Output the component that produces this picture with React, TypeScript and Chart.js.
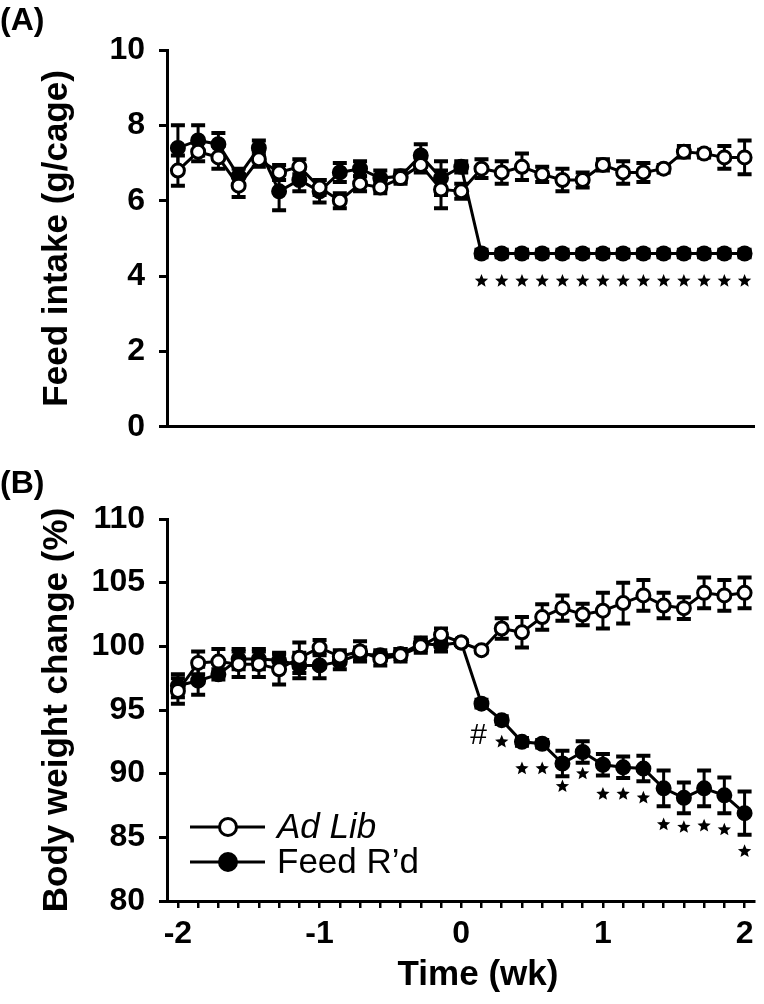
import React, { useEffect, useRef } from 'react';
import { Chart, registerables } from 'chart.js';

Chart.register(...registerables);

const FONT = '"Liberation Sans", Arial, Helvetica, sans-serif';

// Days relative to start of feed restriction (x axis is in weeks)
const days = [-14, -13, -12, -11, -10, -9, -8, -7, -6, -5, -4, -3, -2, -1, 0, 1, 2, 3, 4, 5, 6, 7, 8, 9, 10, 11, 12, 13, 14];
const weeks = days.map((d) => d / 7);

const xLabelWeeks = [-2, -1, 0, 1, 2];
const xTickLabels = ['-2', '-1', '0', '1', '2'];
const feedTicks = [0, 2, 4, 6, 8, 10];
const weightTicks = [80, 85, 90, 95, 100, 105, 110];

// (A) Feed intake (g/cage)
const adLibFeed = [6.8, 7.3, 7.15, 6.4, 7.1, 6.75, 6.9, 6.35, 6.0, 6.45, 6.35, 6.6, 6.95, 6.3, 6.25, 6.85, 6.75, 6.9, 6.7, 6.55, 6.55, 6.95, 6.75, 6.75, 6.85, 7.3, 7.25, 7.15, 7.15];
const adLibFeedErr = [0.4, 0.25, 0.3, 0.3, 0.2, 0.2, 0.2, 0.2, 0.2, 0.2, 0.15, 0.15, 0.2, 0.5, 0.2, 0.25, 0.3, 0.35, 0.2, 0.3, 0.2, 0.15, 0.3, 0.25, 0.1, 0.15, 0.1, 0.3, 0.45];
const restrictedFeed = [7.4, 7.6, 7.5, 6.65, 7.4, 6.25, 6.55, 6.25, 6.75, 6.85, 6.6, 6.65, 7.2, 6.6, 6.9, 4.6, 4.6, 4.6, 4.6, 4.6, 4.6, 4.6, 4.6, 4.6, 4.6, 4.6, 4.6, 4.6, 4.6];
const restrictedFeedErr = [0.6, 0.4, 0.3, 0.2, 0.2, 0.5, 0.3, 0.3, 0.25, 0.2, 0.2, 0.15, 0.3, 0.45, 0.15, 0.1, 0.1, 0.1, 0.1, 0.1, 0.1, 0.1, 0.1, 0.1, 0.1, 0.1, 0.1, 0.1, 0.1];
const feedStarDays = [1, 2, 3, 4, 5, 6, 7, 8, 9, 10, 11, 12, 13, 14];
const feedStarLevel = [3.87, 3.87, 3.87, 3.87, 3.87, 3.87, 3.87, 3.87, 3.87, 3.87, 3.87, 3.87, 3.87, 3.87];

// (B) Body weight change (%)
const adLibWeight = [96.5, 98.7, 98.8, 98.6, 98.6, 98.2, 99.1, 99.9, 99.2, 99.6, 99.0, 99.3, 100.0, 100.9, 100.3, 99.7, 101.4, 101.1, 102.3, 103.0, 102.5, 102.8, 103.4, 104.0, 103.2, 103.0, 104.2, 104.0, 104.2];
const adLibWeightErr = [1.0, 0.9, 1.0, 1.0, 1.0, 1.2, 1.2, 0.6, 0.5, 0.8, 0.5, 0.5, 0.5, 0.5, 0.2, 0.2, 0.8, 1.2, 1.0, 1.0, 0.85, 1.4, 1.6, 1.2, 1.0, 0.85, 1.2, 1.2, 1.2];
const restrictedWeight = [96.9, 97.3, 97.8, 99.0, 99.0, 98.9, 98.5, 98.5, 98.8, 99.4, 99.3, 99.4, 100.2, 100.1, 100.3, 95.5, 94.2, 92.5, 92.35, 90.8, 91.7, 90.7, 90.5, 90.4, 88.85, 88.1, 88.85, 88.3, 86.9];
const restrictedWeightErr = [0.9, 1.1, 0.4, 0.8, 0.8, 0.6, 1.0, 1.0, 0.6, 0.5, 0.4, 0.4, 0.5, 0.5, 0.2, 0.3, 0.3, 0.3, 0.3, 1.0, 0.85, 0.85, 0.85, 1.0, 1.4, 1.2, 1.4, 1.4, 1.7];
const weightStarDays = [2, 3, 4, 5, 6, 7, 8, 9, 10, 11, 12, 13, 14];
const weightStarLevel = [92.5, 90.4, 90.4, 89.0, 90.0, 88.4, 88.4, 88.1, 86.0, 85.8, 85.9, 85.6, 83.9];
const weightHashDay = 1;
const weightHashLevel = 93.0;

const seriesLabels = ['Ad Lib', 'Feed R\u2019d'];
const xTitle = 'Time (wk)';

const X_MIN = -2.077;
const X_MAX = 2.07;

function drawStar(ctx: CanvasRenderingContext2D, cx: number, cy: number, R: number, r: number) {
  ctx.beginPath();
  for (let k = 0; k < 10; k++) {
    const ang = -Math.PI / 2 + (k * Math.PI) / 5;
    const rad = k % 2 === 0 ? R : r;
    const px = cx + rad * Math.cos(ang);
    const py = cy + rad * Math.sin(ang);
    if (k === 0) ctx.moveTo(px, py);
    else ctx.lineTo(px, py);
  }
  ctx.closePath();
  ctx.fill();
}

type Overlay = {
  letter: string;
  letterY: number;
  errs: { vals: number[]; errs: number[] }[];
  starDays: number[];
  starLevels: number[];
  hash?: { day: number; level: number };
  legend?: boolean;
  xTitle?: boolean;
};

function overlayPlugin(o: Overlay) {
  return {
    id: 'overlay',
    beforeDatasetsDraw(chart: any) {
      const ctx = chart.ctx as CanvasRenderingContext2D;
      const xs = chart.scales.x;
      const ys = chart.scales.y;
      ctx.save();
      ctx.strokeStyle = '#000';
      for (const s of o.errs) {
        for (let i = 0; i < s.vals.length; i++) {
          const x = xs.getPixelForValue(weeks[i]);
          const yt = ys.getPixelForValue(s.vals[i] + s.errs[i]);
          const yb = ys.getPixelForValue(s.vals[i] - s.errs[i]);
          ctx.lineWidth = 3;
          ctx.beginPath();
          ctx.moveTo(x, yt);
          ctx.lineTo(x, yb);
          ctx.stroke();
          ctx.lineWidth = 4;
          ctx.beginPath();
          ctx.moveTo(x - 7, yt);
          ctx.lineTo(x + 7, yt);
          ctx.moveTo(x - 7, yb);
          ctx.lineTo(x + 7, yb);
          ctx.stroke();
        }
      }
      ctx.restore();
    },
    afterDatasetsDraw(chart: any) {
      const ctx = chart.ctx as CanvasRenderingContext2D;
      const xs = chart.scales.x;
      const ys = chart.scales.y;
      ctx.save();
      ctx.fillStyle = '#000';
      o.starDays.forEach((d, k) => {
        drawStar(ctx, xs.getPixelForValue(d / 7), ys.getPixelForValue(o.starLevels[k]), 7, 3.1);
      });
      if (o.hash) {
        ctx.font = `30px ${FONT}`;
        ctx.textAlign = 'center';
        ctx.textBaseline = 'middle';
        ctx.fillText('#', xs.getPixelForValue(o.hash.day / 7) - 3, ys.getPixelForValue(o.hash.level));
      }
      ctx.restore();
    },
    afterDraw(chart: any) {
      const ctx = chart.ctx as CanvasRenderingContext2D;
      ctx.save();
      ctx.fillStyle = '#000';
      ctx.font = `bold 32px ${FONT}`;
      ctx.textAlign = 'left';
      ctx.textBaseline = 'middle';
      ctx.fillText(o.letter, 0, o.letterY);
      if (o.xTitle) {
        ctx.font = `bold 35px ${FONT}`;
        ctx.textAlign = 'center';
        ctx.fillText(xTitle, 478, chart.height - 29);
      }
      if (o.legend) {
        const left = chart.chartArea.left;
        const rows = [
          { y: 367, fill: '#fff', text: seriesLabels[0], italic: true },
          { y: 402, fill: '#000', text: seriesLabels[1], italic: false },
        ];
        ctx.textAlign = 'left';
        for (const r of rows) {
          ctx.strokeStyle = '#000';
          ctx.lineWidth = 3;
          ctx.beginPath();
          ctx.moveTo(left + 23, r.y);
          ctx.lineTo(left + 98, r.y);
          ctx.stroke();
          ctx.beginPath();
          ctx.arc(left + 61, r.y, 8.5, 0, Math.PI * 2);
          ctx.fillStyle = r.fill;
          ctx.fill();
          ctx.lineWidth = 3;
          ctx.stroke();
          ctx.fillStyle = '#000';
          ctx.font = `${r.italic ? 'italic ' : ''}35px ${FONT}`;
          ctx.textBaseline = 'middle';
          ctx.fillText(r.text, left + 110, r.y + 1);
        }
      }
      ctx.restore();
    },
  };
}

function makeDatasets(a: number[], b: number[]) {
  const common = {
    borderColor: '#000',
    borderWidth: 3,
    pointBorderColor: '#000',
    pointBorderWidth: 3,
    pointRadius: 6.5,
    tension: 0,
  };
  return [
    {
      ...common,
      label: seriesLabels[0],
      data: weeks.map((x, i) => ({ x, y: a[i] })),
      backgroundColor: '#fff',
      pointBackgroundColor: '#fff',
    },
    {
      ...common,
      label: seriesLabels[1],
      data: weeks.map((x, i) => ({ x, y: b[i] })),
      backgroundColor: '#000',
      pointBackgroundColor: '#000',
    },
  ];
}

const tickFont = { family: FONT, size: 32, weight: 'bold' as const };
const titleFont = { family: FONT, size: 35, weight: 'bold' as const };

export default function App() {
  const refA = useRef<HTMLCanvasElement | null>(null);
  const refB = useRef<HTMLCanvasElement | null>(null);

  useEffect(() => {
    const chartA = new Chart(refA.current as HTMLCanvasElement, {
      type: 'line',
      data: { datasets: makeDatasets(adLibFeed, restrictedFeed) as any },
      options: {
        animation: false,
        responsive: false,
        devicePixelRatio: 1,
        layout: { padding: { left: 0, top: 50, right: 2, bottom: 27 } },
        plugins: { legend: { display: false }, tooltip: { enabled: false } },
        scales: {
          x: {
            type: 'linear',
            min: X_MIN,
            max: X_MAX,
            ticks: { display: false },
            grid: { display: false },
            border: { display: true, color: '#000', width: 3 },
            afterFit: (s: any) => {
              s.height = 0;
            },
          },
          y: {
            type: 'linear',
            min: 0,
            max: 10,
            afterBuildTicks: (s: any) => {
              s.ticks = feedTicks.map((v) => ({ value: v }));
            },
            ticks: { font: tickFont, color: '#000', padding: 14 },
            grid: { drawOnChartArea: false, drawTicks: true, tickLength: 8, color: '#000', lineWidth: 3 },
            border: { display: true, color: '#000', width: 3 },
            title: { display: true, text: 'Feed intake (g/cage)', font: titleFont, color: '#000', padding: { top: 36, bottom: 0 } },
            afterFit: (s: any) => {
              s.width = 167;
            },
          },
        },
      },
      plugins: [
        overlayPlugin({
          letter: '(A)',
          letterY: 21,
          errs: [
            { vals: restrictedFeed, errs: restrictedFeedErr },
            { vals: adLibFeed, errs: adLibFeedErr },
          ],
          starDays: feedStarDays,
          starLevels: feedStarLevel,
        }),
      ],
    } as any);

    const chartB = new Chart(refB.current as HTMLCanvasElement, {
      type: 'line',
      data: { datasets: makeDatasets(adLibWeight, restrictedWeight) as any },
      options: {
        animation: false,
        responsive: false,
        devicePixelRatio: 1,
        layout: { padding: { left: 0, top: 59, right: 2, bottom: 0 } },
        plugins: { legend: { display: false }, tooltip: { enabled: false } },
        scales: {
          x: {
            type: 'linear',
            min: X_MIN,
            max: X_MAX,
            afterBuildTicks: (s: any) => {
              s.ticks = weeks.map((v) => ({ value: v }));
            },
            ticks: {
              font: tickFont,
              color: '#000',
              padding: 7,
              autoSkip: false,
              maxRotation: 0,
              callback: (value: any) => {
                const idx = xLabelWeeks.findIndex((w) => Math.abs(w - Number(value)) < 1e-6);
                return idx >= 0 ? xTickLabels[idx] : '';
              },
            },
            grid: { drawOnChartArea: false, drawTicks: true, tickLength: 7, color: '#000', lineWidth: 2.5 },
            border: { display: true, color: '#000', width: 3 },
            afterFit: (s: any) => {
              s.height = 103;
            },
          },
          y: {
            type: 'linear',
            min: 80,
            max: 110,
            afterBuildTicks: (s: any) => {
              s.ticks = weightTicks.map((v) => ({ value: v }));
            },
            ticks: { font: tickFont, color: '#000', padding: 14 },
            grid: { drawOnChartArea: false, drawTicks: true, tickLength: 8, color: '#000', lineWidth: 3 },
            border: { display: true, color: '#000', width: 3 },
            title: { display: true, text: 'Body weight change (%)', font: titleFont, color: '#000', padding: { top: 36, bottom: 0 } },
            afterFit: (s: any) => {
              s.width = 167;
            },
          },
        },
      },
      plugins: [
        overlayPlugin({
          letter: '(B)',
          letterY: 24,
          errs: [
            { vals: restrictedWeight, errs: restrictedWeightErr },
            { vals: adLibWeight, errs: adLibWeightErr },
          ],
          starDays: weightStarDays,
          starLevels: weightStarLevel,
          hash: { day: weightHashDay, level: weightHashLevel },
          legend: true,
          xTitle: true,
        }),
      ],
    } as any);

    return () => {
      chartA.destroy();
      chartB.destroy();
    };
  }, []);

  return (
    <div style={{ position: 'fixed', left: 0, top: 0, width: 764, height: 1004, background: '#fff' }}>
      <canvas ref={refA} width={764} height={460} style={{ position: 'absolute', left: 0, top: 0, width: 764, height: 460 }} />
      <canvas ref={refB} width={764} height={544} style={{ position: 'absolute', left: 0, top: 460, width: 764, height: 544 }} />
    </div>
  );
}
